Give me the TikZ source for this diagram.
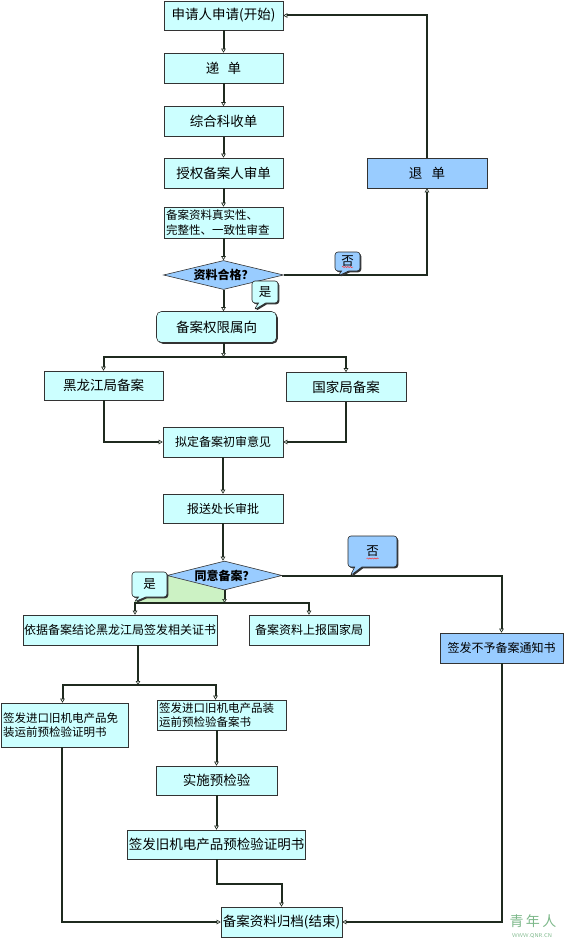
\documentclass[tikz,border=0pt]{standalone}
\usepackage{fontspec}
\usepackage{tikz}
\usetikzlibrary{arrows.meta,shapes.geometric,shapes.callouts,shadows,decorations.pathmorphing}
\newfontfamily\cjk{Noto Sans CJK SC}
\definecolor{boxcyan}{HTML}{CCFFFF}
\definecolor{boxblue}{HTML}{99CCFF}
\definecolor{patchgreen}{HTML}{CCF2C4}
\definecolor{linedark}{HTML}{1F2A1F}
\definecolor{markgreen}{HTML}{7DB88A}
\pgfdeclarelayer{bg}
\pgfsetlayers{bg,main}

\begin{document}
\begin{tikzpicture}[x=1pt,y=-1pt,
  big/.style={font=\cjk\fontsize{13.5}{16}\selectfont},
  med/.style={font=\cjk\fontsize{12}{15}\selectfont},
  small/.style={font=\cjk\fontsize{11.5}{14.5}\selectfont},
  box/.style={draw=black!80,line width=0.6pt,fill=boxcyan,minimum height=30pt,inner sep=1pt},
  bluebox/.style={box,fill=boxblue},
  test/.style={diamond,aspect=4,draw=black!80,line width=0.6pt,fill=boxblue,inner sep=0pt,font=\cjk\bfseries\fontsize{12}{13}\selectfont},
  bubble/.style={rectangle callout,rounded corners=3pt,draw=black!85,line width=0.6pt,inner sep=0pt,
    font=\cjk\fontsize{12.5}{13}\selectfont,drop shadow={shadow xshift=1.3pt,shadow yshift=-1.3pt,fill=black!80,opacity=1}},
  arr/.style={draw=linedark,line width=2pt,-{Triangle[open,length=4pt,width=4.5pt,line width=0.6pt]}},
  squig/.style={red!80,line width=0.5pt,decorate,decoration={snake,amplitude=0.6pt,segment length=2.5pt}}]
  \useasboundingbox (0,0) rectangle (564,941);

  \node[box,big,minimum width=119pt,minimum height=29pt] (start) at (223.5,15.5) {申请人申请(开始)};
  \node[box,big,minimum width=119pt] (submit) at (223.5,68) {递\hspace{0.6em}单};
  \node[box,big,minimum width=119pt] (receive) at (223.5,121.5) {综合科收单};
  \node[box,big,minimum width=119pt] (review) at (223.5,173) {授权备案人审单};
  \node[box,small,minimum width=119pt,minimum height=31pt,align=left,text width=115pt] (check) at (223.5,222.5) {备案资料真实性、\\完整性、一致性审查};
  \node[test,minimum width=120pt,minimum height=29pt] (ok1) at (223.5,275) {资料合格？};
  \node[box,big,rounded corners=5pt,minimum width=120pt,minimum height=31pt,
    drop shadow={shadow xshift=1.3pt,shadow yshift=-1.3pt,fill=black!80,opacity=1}] (scope) at (216.5,327) {备案权限属向};
  \node[bluebox,big,minimum width=120pt] (retn) at (427,173) {退\hspace{0.7em}单};
  \node[box,big,minimum width=119pt,minimum height=29pt] (hlj) at (103.5,385.5) {黑龙江局备案};
  \node[box,big,minimum width=120pt,minimum height=29pt] (gj) at (346,387) {国家局备案};
  \node[box,med,minimum width=120pt] (draft) at (223,442) {拟定备案初审意见};
  \node[box,med,minimum width=120pt,minimum height=29pt] (chief) at (223,508.5) {报送处长审批};
  \node[test,minimum width=115pt,minimum height=29pt] (ok2) at (224.5,575.5) {同意备案？};
  \node[box,med,minimum width=194pt] (cert) at (120,630) {依据备案结论黑龙江局签发相关证书};
  \node[box,med,minimum width=120pt] (report) at (309,630) {备案资料上报国家局};
  \node[bluebox,med,minimum width=123pt] (refuse) at (501.5,648) {签发不予备案通知书};
  \node[box,small,minimum width=127pt,minimum height=44pt,align=left,text width=123pt] (exempt) at (64.5,725) {签发进口旧机电产品免\\装运前预检验证明书};
  \node[box,small,minimum width=129pt,align=left,text width=125pt] (record) at (221.5,715) {签发进口旧机电产品装\\运前预检验备案书};
  \node[box,big,minimum width=121pt,minimum height=29pt] (inspect) at (216.5,780.5) {实施预检验};
  \node[box,big,minimum width=171pt,minimum height=29pt] (prove) at (216.5,844.5) {签发旧机电产品预检验证明书};
  \node[box,big,minimum width=121pt] (archive) at (281.5,922) {备案资料归档(结束)};

  \coordinate (split1) at (223.5,357);
  \coordinate (split2) at (224.5,603);
  \coordinate (split3) at (138,685);
  \coordinate (bend) at (216.5,884);
  \coordinate (no1tip) at (338,276);
  \coordinate (yes1tip) at (254,310);
  \coordinate (no2tip) at (350,576);
  \coordinate (yes2tip) at (134,602);

  \begin{pgfonlayer}{bg}
    \fill[patchgreen] (ok2.west) -- (ok2.south) -- (split2) -- (yes2tip) -- cycle;
  \end{pgfonlayer}

  \foreach \a/\b in {start/submit,submit/receive,receive/review,review/check,check/ok1,draft/chief,inspect/prove}{
    \draw[arr] (\a) -- (\b);
  }
  \draw[arr] (ok1.south) -- (ok1.south |- scope.north);
  \draw[arr] (ok1.east) -| (retn.south);
  \draw[arr] (retn.north) |- (start.east);
  \draw[arr] (scope.south -| split1) -- (split1);
  \draw[arr] (split1) -| (hlj.north);
  \draw[arr] (split1) -| (gj.north);
  \draw[arr] (hlj.south) |- (draft.west);
  \draw[arr] (gj.south) |- (draft.east);
  \draw[arr] (chief.south) -- (chief.south |- ok2.north);
  \draw[arr] (ok2.south) -- (split2);
  \draw[arr] (split2) -| ([xshift=15pt]cert.north);
  \draw[arr] (split2) -| (report.north);
  \draw[arr] (ok2.east) -| (refuse.north);
  \draw[arr] (refuse.south) |- (archive.east);
  \draw[arr] ([xshift=18pt]cert.south) -- (split3);
  \draw[arr] (split3) -| ([xshift=-2pt]exempt.north);
  \draw[arr] (split3) -| ([xshift=-6pt]record.north);
  \draw[arr] (record.south -| inspect.north) -- (inspect.north);
  \draw[arr] (prove.south) -- (bend) -| (archive.north);
  \draw[arr] ([xshift=-3pt]exempt.south) |- (archive.west);

  \node[bubble,fill=boxblue,minimum width=25pt,minimum height=19pt,callout absolute pointer={(no1tip)}] (no1) at (347.5,261.5) {否};
  \node[bubble,fill=boxcyan,minimum width=26pt,minimum height=22pt,callout absolute pointer={(yes1tip)}] (yes1) at (265,292) {是};
  \node[bubble,fill=boxblue,minimum width=49pt,minimum height=31pt,callout absolute pointer={(no2tip)}] (no2) at (372.5,551.5) {否};
  \node[bubble,fill=boxcyan,minimum width=35pt,minimum height=25pt,callout absolute pointer={(yes2tip)}] (yes2) at (149.5,584.5) {是};
  \draw[squig] ([xshift=-5.5pt,yshift=-5.5pt]no1.center) -- ++(11,0);
  \draw[squig] ([xshift=-6pt,yshift=-7pt]no2.center) -- ++(12,0);

  \node[text=markgreen,font=\cjk\fontsize{14}{14}\selectfont] (mark) at (533,921) {青\,年\,人};
  \node[text=markgreen,font=\sffamily\fontsize{5.5}{6}\selectfont] (markurl) at (532,935.5) {WWW.QNR.CN};
\end{tikzpicture}
\end{document}
